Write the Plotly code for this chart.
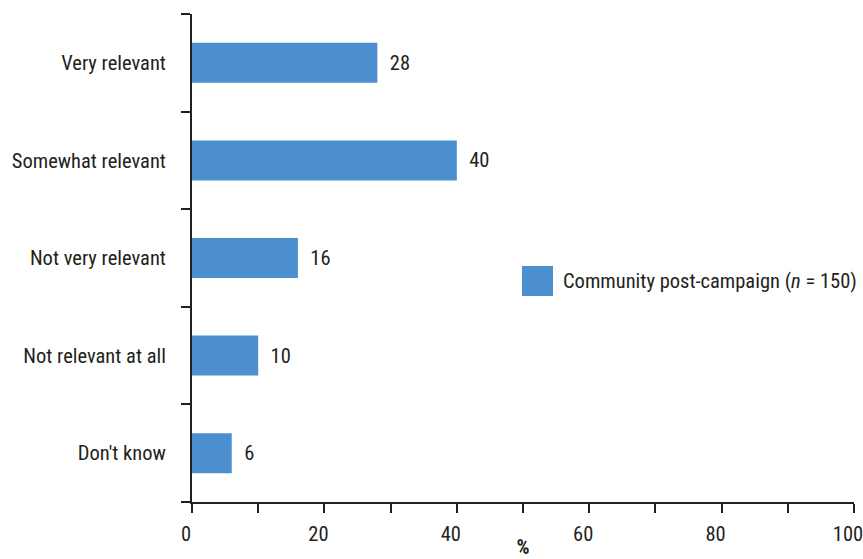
import plotly.graph_objects as go

# Survey responses: perceived relevance, community post-campaign sample
categories = ["Very relevant", "Somewhat relevant", "Not very relevant",
              "Not relevant at all", "Don't know"]
percent = [28, 40, 16, 10, 6]
series_name = "Community post-campaign (<i>n</i> = 150)"
x_ticks = [0, 20, 40, 60, 80, 100]

BAR = "#4b8fcf"
INK = "#231f20"
FONT = "Liberation Sans Narrow, Arial Narrow, Roboto Condensed, sans-serif"
SIZE = 20.5

fig = go.Figure(go.Bar(
    y=categories, x=percent, orientation="h",
    marker=dict(color=BAR, line=dict(width=0)),
    texttemplate="  %{x}", textposition="outside",
    textfont=dict(size=SIZE, color=INK, family=FONT),
    cliponaxis=False, showlegend=False,
))

fig.update_layout(
    width=863, height=559,
    margin=dict(l=192, r=9, t=14, b=57),
    paper_bgcolor="white", plot_bgcolor="white",
    font=dict(family=FONT, size=SIZE, color=INK),
    bargap=0.59,
    showlegend=False,
)

fig.update_xaxes(
    range=[0, 100], tickvals=x_ticks,
    ticks="outside", ticklen=9, tickwidth=2,
    tickcolor=INK, showline=True, linecolor=INK, linewidth=2,
    showgrid=False, zeroline=False, ticklabeloverflow="allow", automargin=False,
    ticklabelstandoff=3, ticklabelshift=-6,
    minor=dict(dtick=10, tick0=0, ticks="outside", ticklen=9, tickwidth=2,
               tickcolor=INK, showgrid=False),
    title=dict(text="<b>%</b>", standoff=0, font=dict(size=SIZE, color=INK)),
    tickfont=dict(size=SIZE, color=INK),
)
fig.update_yaxes(
    categoryorder="array", categoryarray=categories[::-1],
    tickson="boundaries", ticks="outside", ticklen=9, tickwidth=2,
    tickcolor=INK, showline=True, linecolor=INK, linewidth=2,
    showgrid=False, zeroline=False, ticklabelstandoff=20, automargin=False,
    tickfont=dict(size=SIZE, color=INK),
)

# Legend key: swatch plus series label
fig.add_shape(type="rect", xref="paper", yref="paper",
              x0=(522 - 192) / 662, x1=(553 - 192) / 662,
              y0=(502 - 296) / 488, y1=(502 - 266) / 488,
              fillcolor=BAR, line=dict(width=0))
fig.add_annotation(xref="paper", yref="paper",
                   x=(561 - 192) / 662, y=(502 - 281) / 488,
                   xanchor="left", yanchor="middle", showarrow=False,
                   text=series_name, font=dict(size=SIZE, color=INK, family=FONT))

fig.write_html("out.html")
